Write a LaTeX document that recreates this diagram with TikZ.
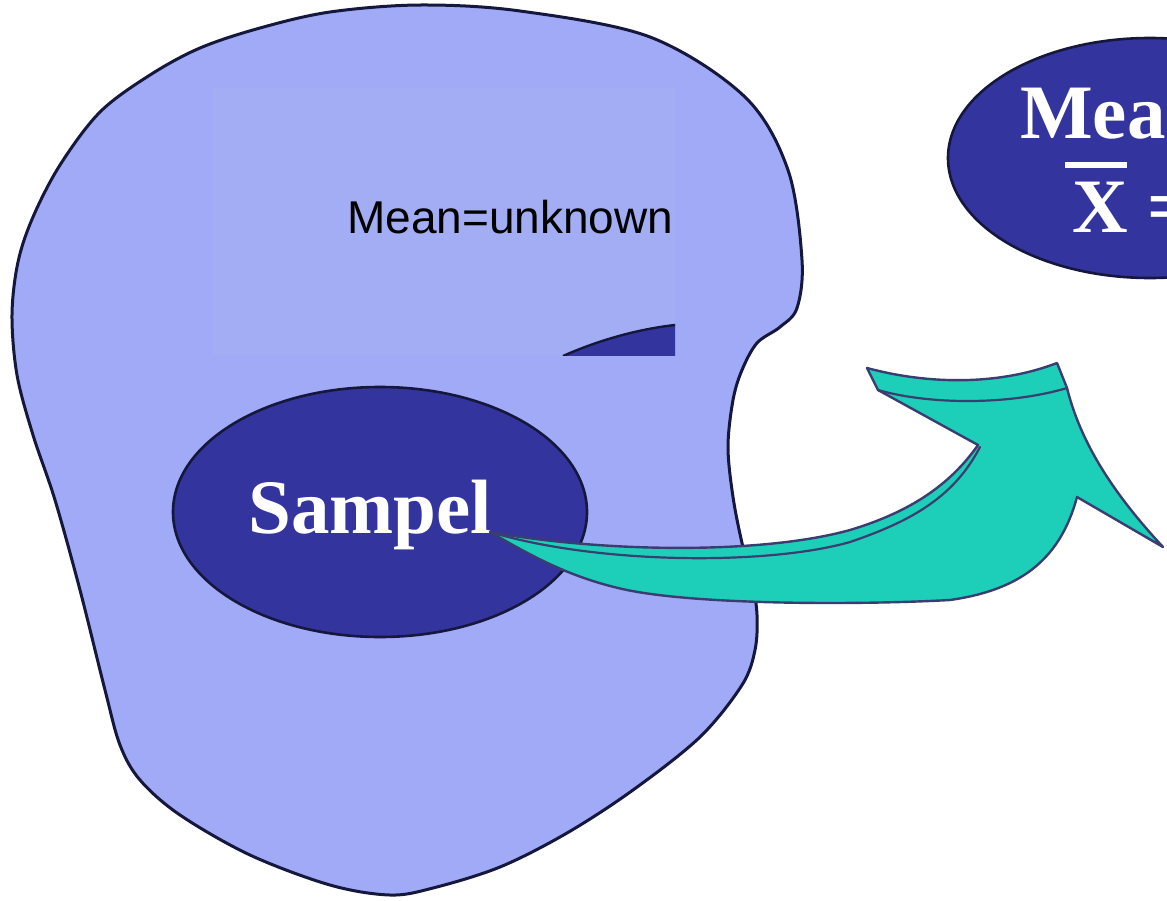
\documentclass[tikz,border=0pt]{standalone}
\usepackage{fontspec}
\setmainfont{Liberation Serif}
\newfontfamily\labelsans{Liberation Sans}
\usetikzlibrary{shapes.geometric}

\definecolor{popfill}{HTML}{A0AAF7}
\definecolor{patchfill}{HTML}{A3ADF4}
\definecolor{ovalfill}{HTML}{33349E}
\definecolor{inkline}{HTML}{16173C}
\definecolor{arrowfill}{HTML}{1DCFB9}
\definecolor{arrowline}{HTML}{3A3D70}

\tikzset{
  population/.style={fill=popfill, draw=inkline, line width=3pt, line join=round},
  oval/.style={ellipse, draw=inkline, line width=2.6pt, fill=ovalfill, inner sep=0pt, outer sep=0pt},
  whitelabel/.style={text=white, font=\fontsize{77}{80}\selectfont\bfseries, inner sep=0pt, anchor=base west},
  plainlabel/.style={text=black, font=\labelsans\fontsize{46}{50}\selectfont, inner sep=0pt, anchor=base west},
  bigarrow/.style={fill=arrowfill, draw=arrowline, line width=2.4pt, line join=round},
  arrowcrease/.style={draw=arrowline, line width=2.2pt, line cap=round}
}

\begin{document}
\begin{tikzpicture}[x=1pt,y=-1pt]
  \useasboundingbox (0,0) rectangle (1167,900);
  \clip (0,0) rectangle (1167,900);
  \fill[white] (0,0) rectangle (1167,900);

  % population outline
  \draw[population] plot[smooth cycle, tension=0.55] coordinates {
    (420,5) (520,11) (650,37) (745,97) (788,170) (802,260) (797,308)
    (780,327) (757,343) (742,370) (733,400) (728,447) (733,497) (742,543)
    (752,580) (757,615) (755,650) (742,685) (700,737) (633,790) (567,833)
    (500,867) (433,888) (390,895) (330,885) (250,855) (180,815) (140,780)
    (120,745) (105,690) (80,590) (55,500) (33,435) (17,375) (12,315)
    (18,262) (33,217) (60,165) (100,112) (150,75) (200,48) (260,28) (330,12)
  };

  % patch over the upper part, with the edge of a hidden oval
  \fill[patchfill] (213,88) rectangle (675,355);
  \begin{scope}
    \clip (213,88) rectangle (675,355);
    \fill[ovalfill] (563,356) .. controls (590,344) and (630,330) .. (675,325)
      -- (680,325) -- (680,360) -- (560,360) -- cycle;
    \draw[draw=inkline, line width=2.4pt] (563,356) .. controls (590,344) and (630,330) .. (675,325) -- (680,324);
  \end{scope}
  \node[plainlabel] (unknownmean) at (347,233) {Mean=unknown};

  % sample oval
  \node[oval, minimum width=414pt, minimum height=250pt] (sample) at (380,512) {};
  \node[whitelabel] (samplename) at (248,533) {Sampel};

  % statistic oval (runs off the right edge)
  \node[oval, minimum width=404pt, minimum height=240pt] (statistic) at (1150,158) {};
  \node[whitelabel] (meanword) at (1020,138) {Mean};
  \node[whitelabel] (xbar) at (1072,232) {X =};
  \fill[white] (1065,162) rectangle (1127,168);

  % curved block arrow from the sample towards the statistic
  \path[bigarrow]
    (490,532) .. controls (600,552) and (760,555) .. (850,530)
    .. controls (910,512) and (950,485) .. (978,445)
    -- (878,390) -- (867,368)
    .. controls (930,385) and (1000,385) .. (1057,363)
    -- (1067,388)
    .. controls (1080,440) and (1110,490) .. (1163,547)
    -- (1077,497)
    .. controls (1060,560) and (1020,590) .. (950,600)
    .. controls (860,605) and (700,605) .. (627,590)
    .. controls (570,578) and (530,555) .. (490,532) -- cycle;
  \path[arrowcrease] (878,390) .. controls (930,405) and (1010,405) .. (1067,388);
  \path[arrowcrease] (980,447) .. controls (955,495) and (915,520) .. (850,542)
    .. controls (770,565) and (600,565) .. (490,532);
\end{tikzpicture}
\end{document}
